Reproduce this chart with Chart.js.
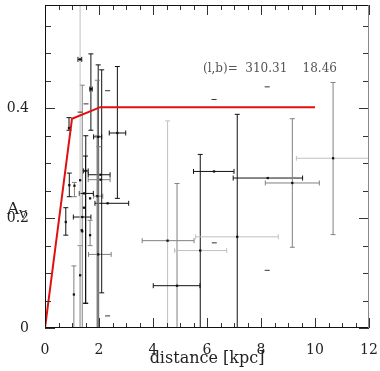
<!DOCTYPE html>
<html>
<head>
<meta charset="utf-8">
<script src="https://cdn.jsdelivr.net/npm/chart.js@4"></script>
<style>
  html, body { margin: 0; padding: 0; background: #fff; }
</style>
</head>
<body>
<canvas id="c" width="380" height="371"></canvas>
<script>
// --- DATOS ---
// estrellas: distancia [kpc], extincion A_V, barras de error (null = sin barra)
const ptX  = [4.54, 4.89, 5.75, 6.26, 7.12, 8.25, 9.16, 10.67, 1.30, 1.70, 1.97, 2.68, 1.38, 1.94, 0.89, 0.90, 1.09, 1.30, 0.77, 1.38, 1.67, 1.44, 1.45, 1.67, 1.50, 2.06, 2.06, 2.32, 1.97, 2.10, 1.07, 1.30, 1.36, 1.51, 1.30, 1.93, 1.99];
const ptY  = [0.159, 0.077, 0.141, 0.285, 0.166, 0.273, 0.264, 0.309, 0.489, 0.435, 0.348, 0.355, 0.202, 0.240, 0.364, 0.260, 0.259, 0.269, 0.193, 0.176, 0.169, 0.219, 0.245, 0.236, 0.286, 0.279, 0.270, 0.227, 0.134, 0.300, 0.061, 0.096, 0.178, 0.170, 0.300, 0.200, 0.150];
const xLo  = [3.60, 4.01, 4.80, 5.50, 5.58, 6.97, 8.16, 9.31, 1.22, 1.66, 1.80, 2.38, 1.05, 1.80, null, null, null, null, null, null, null, null, 1.27, null, 1.42, 1.60, 1.60, 1.85, 1.61, null, null, null, null, null, null, null, null];
const xHi  = [5.52, 5.74, 6.73, 7.00, 8.64, 9.54, 10.16, 12.00, 1.36, 1.75, 2.10, 2.99, 1.70, 2.14, null, null, null, null, null, null, null, null, 1.79, null, 1.60, 2.41, 2.41, 3.10, 2.45, null, null, null, null, null, null, null, null];
const yLo  = [0.000, 0.000, 0.000, null, 0.000, null, 0.147, 0.170, null, 0.360, 0.000, 0.236, 0.000, 0.000, 0.360, 0.239, 0.239, null, 0.169, null, 0.150, null, null, null, 0.045, null, null, null, null, 0.064, 0.000, 0.000, null, 0.045, 0.000, 0.000, 0.000];
const yHi  = [0.377, 0.263, 0.316, null, 0.389, null, 0.381, 0.447, null, 0.499, 0.479, 0.476, 0.442, 0.451, 0.383, 0.282, 0.265, null, 0.219, null, 0.196, null, null, null, 0.313, null, null, null, null, 0.470, 0.113, 0.150, null, 0.350, 0.588, 0.350, 0.330];
// color de cada barra: k = negro, g = gris, l = gris claro
const xCol = ['g', 'k', 'l', 'k', 'l', 'k', 'g', 'l', 'k', 'k', 'k', 'k', 'k', 'g', 'k', 'k', 'g', 'k', 'k', 'k', 'g', 'k', 'k', 'k', 'k', 'k', 'g', 'k', 'g', 'k', 'g', 'g', 'k', 'k', 'l', 'g', 'g'];
const yCol = ['l', 'g', 'k', 'k', 'k', 'k', 'g', 'g', 'k', 'k', 'k', 'k', 'g', 'g', 'k', 'k', 'g', 'k', 'k', 'k', 'g', 'k', 'k', 'k', 'k', 'k', 'g', 'k', 'g', 'k', 'g', 'g', 'k', 'k', 'l', 'g', 'g'];
// marcador: s = cuadrado, '' = sin marcador
const ptMark = ['s', 's', 's', 's', 's', 's', 's', 's', 's', 's', 's', 's', 's', 's', 's', 's', 's', 's', 's', 's', 's', 's', 's', 's', 's', 's', 's', 's', 's', '', 's', 's', 's', '', '', '', ''];

// guiones sueltos
const dashX = [8.23, 6.26, 6.27, 8.23, 2.32, 2.32, 1.52, 1.30];
const dashY = [0.439, 0.416, 0.155, 0.105, 0.022, 0.432, 0.408, 0.393];

// modelo de extincion (linea roja)
const modelX = [0, 1.0, 2.05, 10.0];
const modelY = [0, 0.381, 0.402, 0.402];

const xTicks = [0, 2, 4, 6, 8, 10, 12];
const yTicks = [0, 0.2, 0.4];
const lbText = '(l,b)=  310.31    18.46';

const COLORS = { k: '#111', g: '#808080', l: '#c0c0c0' };

// --- PLUGINS ---
const errorBars = {
    id: 'errorBars',
    beforeDatasetsDraw(chart) {
        const { ctx, chartArea: a, scales: { x, y } } = chart;
        ctx.save();
        ctx.beginPath();
        ctx.rect(a.left, a.top, a.right - a.left, a.bottom - a.top);
        ctx.clip();
        ctx.lineWidth = 1;
        const cap = 2.5;
        for (let i = 0; i < ptX.length; i++) {
            const px = x.getPixelForValue(ptX[i]);
            const py = y.getPixelForValue(ptY[i]);
            if (xLo[i] !== null) {
                const x0 = x.getPixelForValue(xLo[i]);
                const x1 = x.getPixelForValue(xHi[i]);
                ctx.strokeStyle = COLORS[xCol[i]];
                ctx.beginPath();
                ctx.moveTo(x0, py); ctx.lineTo(x1, py);
                ctx.moveTo(x0, py - cap); ctx.lineTo(x0, py + cap);
                ctx.moveTo(x1, py - cap); ctx.lineTo(x1, py + cap);
                ctx.stroke();
            }
            if (yLo[i] !== null) {
                const y0 = y.getPixelForValue(yLo[i]);
                const y1 = y.getPixelForValue(yHi[i]);
                ctx.strokeStyle = COLORS[yCol[i]];
                ctx.beginPath();
                ctx.moveTo(px, y0); ctx.lineTo(px, y1);
                ctx.moveTo(px - cap, y0); ctx.lineTo(px + cap, y0);
                ctx.moveTo(px - cap, y1); ctx.lineTo(px + cap, y1);
                ctx.stroke();
            }
        }
        ctx.restore();
    }
};

const frame = {
    id: 'frame',
    afterDraw(chart) {
        const { ctx, chartArea: a, scales: { x, y } } = chart;
        ctx.save();
        ctx.lineWidth = 1;
        // ticks hacia adentro
        ctx.strokeStyle = '#333';
        ctx.beginPath();
        for (let v = 0; v <= 12.001; v += 0.5) {
            const px = Math.round(x.getPixelForValue(v)) + 0.5;
            const len = Math.abs(v % 2) < 0.01 ? 10 : 5;
            ctx.moveTo(px, a.bottom); ctx.lineTo(px, a.bottom - len);
            ctx.moveTo(px, a.top); ctx.lineTo(px, a.top + len);
        }
        for (let k = 0; k <= 11; k++) {
            const v = k * 0.05;
            const py = Math.round(y.getPixelForValue(v)) + 0.5;
            const len = k % 4 === 0 ? 10 : 6;
            ctx.moveTo(a.left, py); ctx.lineTo(a.left + len, py);
            ctx.moveTo(a.right, py); ctx.lineTo(a.right - len, py);
        }
        ctx.stroke();
        // caja
        ctx.strokeStyle = '#111';
        ctx.beginPath();
        ctx.moveTo(a.right, a.top + 0.5); ctx.lineTo(a.left + 0.5, a.top + 0.5);
        ctx.lineTo(a.left + 0.5, a.bottom - 0.5); ctx.lineTo(a.right, a.bottom - 0.5);
        ctx.stroke();
        ctx.strokeStyle = '#888';
        ctx.beginPath();
        ctx.moveTo(a.right - 0.5, a.top); ctx.lineTo(a.right - 0.5, a.bottom);
        ctx.stroke();
        // titulo eje y: A_V
        ctx.fillStyle = '#222';
        ctx.textBaseline = 'alphabetic';
        ctx.font = '17px "DejaVu Serif"';
        ctx.fillText('A', 7, 214);
        ctx.font = '11px "DejaVu Serif"';
        ctx.fillText('V', 19, 218);
        // etiqueta (l,b)
        ctx.fillStyle = '#555';
        ctx.font = '12px "DejaVu Serif"';
        ctx.fillText(lbText, x.getPixelForValue(5.85), y.getPixelForValue(0.466));
        ctx.restore();
    }
};

// --- GRAFICO ---
const tickFont = { family: 'DejaVu Serif', size: 14 };

new Chart(document.getElementById('c'), {
    data: {
        datasets: [
            {
                type: 'line',
                data: modelX.map((v, i) => ({ x: v, y: modelY[i] })),
                borderColor: '#e01010',
                borderWidth: 2,
                pointRadius: 0,
                fill: false,
                tension: 0,
                order: 0
            },
            {
                type: 'scatter',
                data: ptX.map((v, i) => ({ x: v, y: ptY[i] })).filter((d, i) => ptMark[i] === 's'),
                pointStyle: 'rect',
                pointRadius: 1.6,
                backgroundColor: '#111',
                borderColor: '#111',
                borderWidth: 0,
                order: 1
            },
            {
                type: 'scatter',
                data: dashX.map((v, i) => ({ x: v, y: dashY[i] })),
                pointStyle: 'line',
                pointRadius: 2.5,
                borderColor: '#333',
                borderWidth: 1,
                order: 1
            }
        ]
    },
    options: {
        responsive: false,
        animation: false,
        devicePixelRatio: 1,
        layout: { padding: { top: 5, right: 11, left: 0, bottom: 0 } },
        plugins: { legend: { display: false }, tooltip: { enabled: false } },
        scales: {
            x: {
                type: 'linear',
                min: 0,
                max: 12,
                afterBuildTicks: s => { s.ticks = xTicks.map(v => ({ value: v })); },
                afterFit: s => { s.height = 43; s.paddingLeft = 0; s.paddingRight = 0; },
                grid: { display: false },
                border: { display: false },
                ticks: { font: tickFont, color: '#222', padding: 6, maxRotation: 0, callback: v => String(v) },
                title: { display: true, text: 'distance [kpc]', font: { family: 'DejaVu Serif', size: 16 }, color: '#222', padding: { top: 0, bottom: 3 } }
            },
            y: {
                type: 'linear',
                min: 0,
                max: 0.588,
                afterBuildTicks: s => { s.ticks = yTicks.map(v => ({ value: v })); },
                afterFit: s => { s.width = 45; s.paddingTop = 0; s.paddingBottom = 0; },
                grid: { display: false },
                border: { display: false },
                ticks: { font: tickFont, color: '#222', padding: 8, callback: v => v === 0 ? '0' : v.toFixed(1) }
            }
        }
    },
    plugins: [errorBars, frame]
});
</script>
</body>
</html>
